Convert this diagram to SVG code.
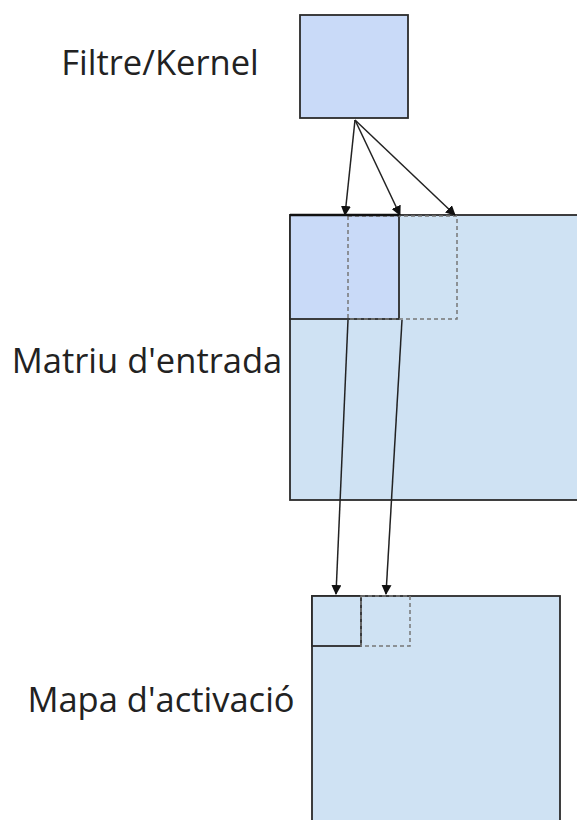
<svg xmlns="http://www.w3.org/2000/svg" width="577" height="820" viewBox="0 0 577 820">
  <style>
    .label { font-family: "Open Sans", "Noto Sans", sans-serif; font-size: 34.5px; fill: #222; }
    .box { stroke: #2b2b2b; stroke-width: 1.8; }
    .kernel { fill: #c9daf8; }
    .plane { fill: #cfe2f3; }
    .dash { fill: none; stroke: #777; stroke-width: 1.5; stroke-dasharray: 4 3; }
    .link { stroke: #222; stroke-width: 1.5; fill: none; marker-end: url(#arrow); }
  </style>
  <defs>
    <marker id="arrow" viewBox="0 0 10 10" refX="9" refY="5" markerWidth="10" markerHeight="10" markerUnits="userSpaceOnUse" orient="auto">
      <path d="M0,0 L10,5 L0,10 z" fill="#111"/>
    </marker>
  </defs>

  <rect width="577" height="820" fill="#fff"/>

  <!-- kernel -->
  <g id="kernel">
    <rect class="box kernel" x="300" y="15" width="108" height="103"/>
    <text class="label" x="160" y="75" text-anchor="middle">Filtre/Kernel</text>
  </g>

  <!-- input matrix with kernel positions -->
  <g id="input">
    <rect class="box plane" x="290" y="215" width="300" height="285"/>
    <rect class="box kernel" x="290" y="215" width="109" height="104"/>
    <rect class="dash" x="348" y="216" width="109" height="103"/>
    <line x1="290" y1="215" x2="399" y2="215" stroke="#111" stroke-width="2.5"/>
    <text class="label" x="147" y="373" text-anchor="middle">Matriu d'entrada</text>
  </g>

  <!-- activation map -->
  <g id="activation">
    <rect class="box plane" x="312" y="596" width="248" height="240"/>
    <rect class="box plane" x="312" y="596" width="49" height="50"/>
    <rect class="dash" x="361" y="596" width="49" height="50"/>
    <text class="label" x="161" y="712" text-anchor="middle">Mapa d'activació</text>
  </g>

  <!-- connectors -->
  <g id="connectors">
    <line class="link" x1="355" y1="120" x2="345" y2="215"/>
    <line class="link" x1="355" y1="120" x2="400" y2="215"/>
    <line class="link" x1="355" y1="120" x2="455" y2="215"/>
    <line class="link" x1="348" y1="320" x2="336" y2="594"/>
    <line class="link" x1="402" y1="320" x2="386" y2="594"/>
  </g>
</svg>
